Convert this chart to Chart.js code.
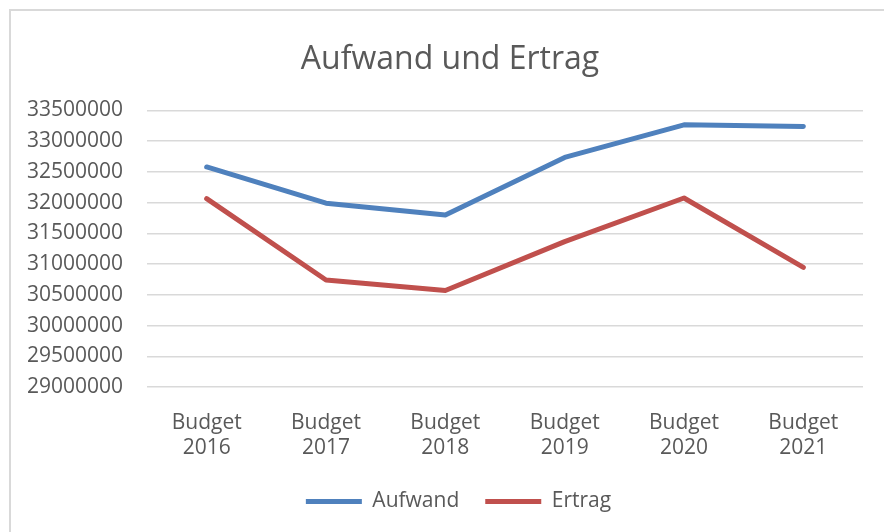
<!DOCTYPE html>
<html>
<head>
<meta charset="utf-8">
<script src="https://cdn.jsdelivr.net/npm/chart.js@4"></script>
<style>
  html, body { margin: 0; padding: 0; background: #fff; overflow: hidden; }
  #wrap { position: absolute; left: 0; top: 0; width: 884px; height: 532px; }
  #frame { position: absolute; left: 9px; top: 9px; width: 900px; height: 600px;
           border: 2px solid #d9d9d9; pointer-events: none; }
</style>
</head>
<body>
<div id="wrap">
  <canvas id="chart" width="884" height="532"></canvas>
  <div id="frame"></div>
</div>
<script>
const categories = [
  ['Budget', '2016'], ['Budget', '2017'], ['Budget', '2018'],
  ['Budget', '2019'], ['Budget', '2020'], ['Budget', '2021']
];
const aufwand = [32580000, 31990000, 31800000, 32735000, 33265000, 33240000];
const ertrag = [32065000, 30740000, 30570000, 31365000, 32075000, 30945000];
const yMin = 29000000;
const yMax = 33500000;
const yStep = 500000;

const textColor = '#595959';
const fontFamily = '"Open Sans", sans-serif';

const chart = document.querySelector('#chart');

// title and legend sit a bit right of the canvas centre in the original
const shiftBlocks = {
    id: 'shiftBlocks',
    afterLayout(c) {
        c.titleBlock.left += 37;
        c.legend.left += 54;
    }
};

new Chart(chart, {
    type: 'line',
    data: {
        labels: categories,
        datasets: [{
            label: 'Aufwand',
            data: aufwand,
            borderColor: '#4f81bd',
            backgroundColor: '#4f81bd',
            borderWidth: 5,
            borderCapStyle: 'round',
            borderJoinStyle: 'round',
            pointRadius: 0,
            tension: 0
        }, {
            label: 'Ertrag',
            data: ertrag,
            borderColor: '#c0504d',
            backgroundColor: '#c0504d',
            borderWidth: 5,
            borderCapStyle: 'round',
            borderJoinStyle: 'round',
            pointRadius: 0,
            tension: 0
        }]
    },
    plugins: [shiftBlocks],
    options: {
        responsive: false,
        animation: false,
        layout: {
            padding: { left: 0, right: 21, top: 0, bottom: 10 }
        },
        plugins: {
            tooltip: { enabled: false },
            title: {
                display: true,
                text: 'Aufwand und Ertrag',
                color: textColor,
                font: { family: fontFamily, size: 32, weight: 'normal' },
                padding: { top: 41, bottom: 31 }
            },
            legend: {
                position: 'bottom',
                labels: {
                    usePointStyle: true,
                    pointStyle: 'line',
                    pointStyleWidth: 56,
                    color: textColor,
                    font: { family: fontFamily, size: 21 },
                    padding: 26
                }
            }
        },
        scales: {
            x: {
                offset: true,
                afterFit: (scale) => { scale.height = 78; },
                grid: { display: false, drawTicks: false },
                border: { display: false },
                ticks: {
                    color: textColor,
                    font: { family: fontFamily, size: 21, lineHeight: 1.2 },
                    padding: 23,
                    maxRotation: 0
                }
            },
            y: {
                min: yMin,
                max: yMax,
                afterFit: (scale) => { scale.width = 147; },
                grid: { color: '#d9d9d9', lineWidth: 1.5, drawTicks: false },
                border: { display: false },
                ticks: {
                    stepSize: yStep,
                    color: textColor,
                    font: { family: fontFamily, size: 21 },
                    padding: 24,
                    callback: (v) => String(v)
                }
            }
        }
    }
});
</script>
</body>
</html>
